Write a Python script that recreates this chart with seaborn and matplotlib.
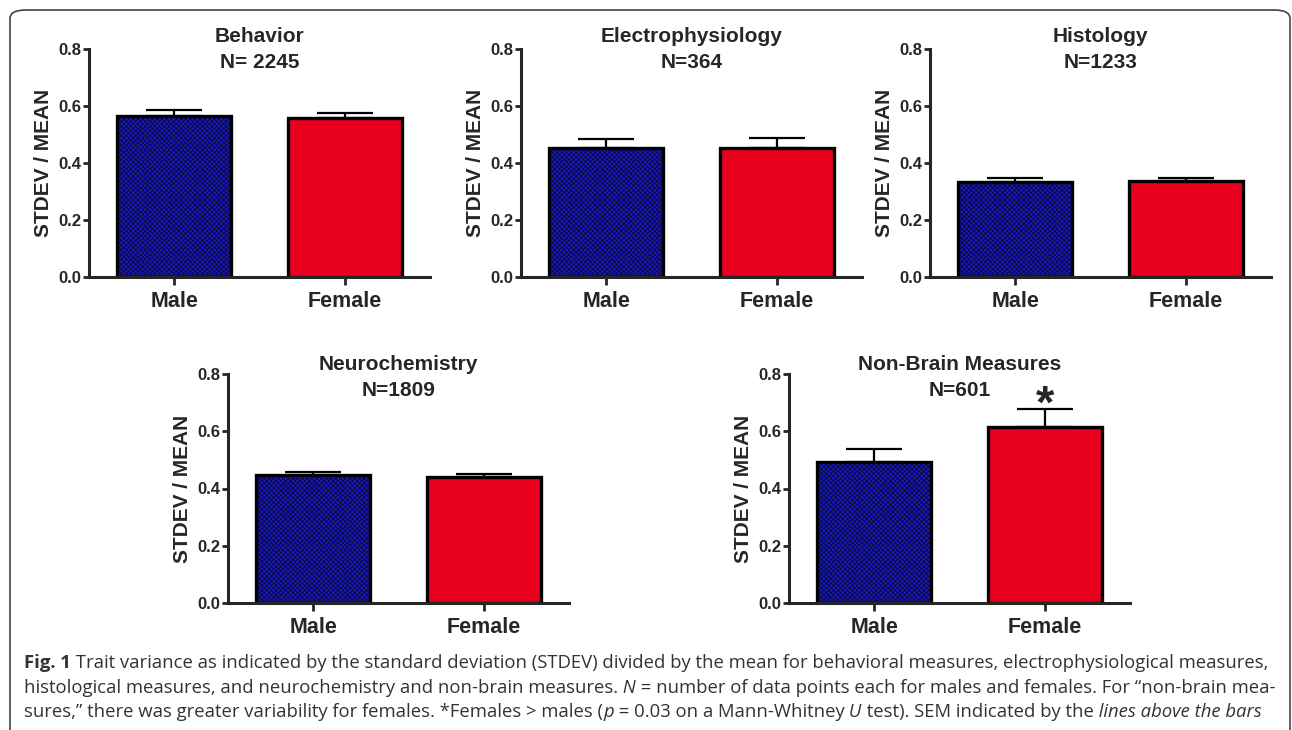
import numpy as np
import pandas as pd
import matplotlib
matplotlib.use("Agg")
import matplotlib.pyplot as plt
import seaborn as sns
from matplotlib.patches import FancyBboxPatch
from matplotlib.ticker import FormatStrFormatter

# dados
sexos = ["Male", "Female"]
titulos = ["Behavior", "Electrophysiology", "Histology",
           "Neurochemistry", "Non-Brain Measures"]
n_pontos = ["N= 2245", "N=364", "N=1233", "N=1809", "N=601"]
media_behavior = [0.566, 0.559]
sem_behavior = [0.021, 0.015]
media_electro = [0.453, 0.453]
sem_electro = [0.031, 0.034]
media_histo = [0.334, 0.337]
sem_histo = [0.013, 0.011]
media_neuro = [0.446, 0.439]
sem_neuro = [0.013, 0.012]
media_nonbrain = [0.494, 0.616]
sem_nonbrain = [0.043, 0.060]
yticks = [0.0, 0.2, 0.4, 0.6, 0.8]

W, H = 1292, 730
COR_M = "#1818b4"
COR_F = "#e8001e"
TXT = "#333333"

sns.set_style("ticks")
plt.rcParams["font.family"] = ["Liberation Sans", "DejaVu Sans"]
plt.rcParams["hatch.linewidth"] = 0.35


def painel(fig, caixa, titulo, n, medias, sems, dy_tit, asterisco=False):
    l, t, w, h = caixa
    ax = fig.add_axes([l / W, 1 - (t + h) / H, w / W, h / H])
    df = pd.DataFrame({"sexo": sexos, "valor": medias})
    sns.barplot(data=df, x="sexo", y="valor", hue="sexo",
                palette=[COR_M, COR_F], width=0.67, edgecolor="black",
                linewidth=2.4, saturation=1, legend=False, ax=ax, zorder=2)
    ax.patches[0].set_hatch("xxxxxxx")
    ax.errorbar([0, 1], medias, yerr=[[0, 0], sems], fmt="none",
                ecolor="black", elinewidth=1.6, capsize=20.5, capthick=1.6,
                zorder=3, clip_on=False)
    if asterisco:
        ax.text(1, medias[1] + sems[1] - 0.03, "*", ha="center",
                va="baseline", fontsize=34, fontweight="bold")
    ax.set_xlim(-0.5, 1.5)
    ax.set_ylim(0, 0.8)
    ax.set_yticks(yticks)
    ax.yaxis.set_major_formatter(FormatStrFormatter("%.1f"))
    ax.set_xlabel("")
    ax.set_ylabel("STDEV / MEAN", fontsize=15, fontweight="bold", labelpad=4)
    for s in ["top", "right"]:
        ax.spines[s].set_visible(False)
    for s in ["left", "bottom"]:
        ax.spines[s].set_linewidth(2.2)
    ax.tick_params(axis="y", length=4.5, width=2, labelsize=12, pad=1)
    ax.tick_params(axis="x", length=6, width=2, labelsize=15.5, pad=4)
    for lab in ax.get_xticklabels() + ax.get_yticklabels():
        lab.set_fontweight("bold")
    # titulo em duas linhas separadas
    ax.text(0.5, 1 + dy_tit[0] / h, titulo, transform=ax.transAxes,
            ha="center", va="center", fontsize=15, fontweight="bold")
    ax.text(0.5, 1 + dy_tit[1] / h, n, transform=ax.transAxes,
            ha="center", va="center", fontsize=15, fontweight="bold")
    return ax


def legenda(fig, linhas):
    renderer = fig.canvas.get_renderer()
    for y, partes in linhas:
        x = 24
        for texto, estilo in partes:
            t = fig.text(x / W, 1 - y / H, texto, fontsize=13.3, color=TXT,
                         family=["Open Sans", "DejaVu Sans"],
                         fontweight="bold" if estilo == "b" else "normal",
                         fontstyle="italic" if estilo == "i" else "normal",
                         va="baseline", ha="left")
            x += t.get_window_extent(renderer).width


def main():
    fig = plt.figure(figsize=(W / 100, H / 100), dpi=100)
    borda = FancyBboxPatch((10 / W, -8 / H), 1280 / W, 728 / H,
                           boxstyle="round,pad=0,rounding_size=0.012",
                           transform=fig.transFigure, fill=False,
                           edgecolor="#444444", linewidth=1.2)
    fig.patches.append(borda)

    topo = (13, -13)
    baixo = (9, -17)
    painel(fig, (89, 49, 341, 228), titulos[0], n_pontos[0],
           media_behavior, sem_behavior, topo)
    painel(fig, (521, 49, 341, 228), titulos[1], n_pontos[1],
           media_electro, sem_electro, topo)
    painel(fig, (930, 49, 341, 228), titulos[2], n_pontos[2],
           media_histo, sem_histo, topo)
    painel(fig, (228, 374, 341, 229), titulos[3], n_pontos[3],
           media_neuro, sem_neuro, baixo)
    painel(fig, (789, 374, 341, 229), titulos[4], n_pontos[4],
           media_nonbrain, sem_nonbrain, baixo, asterisco=True)

    linhas = [
        (668, [("Fig. 1", "b"),
               (" Trait variance as indicated by the standard deviation (STDEV) "
                "divided by the mean for behavioral measures, electrophysiological "
                "measures,", "n")]),
        (693, [("histological measures, and neurochemistry and non-brain measures.", "n"),
               (" N", "i"),
               (" = number of data points each for males and females. "
                "For \u201cnon-brain mea-", "n")]),
        (717, [("sures,\u201d there was greater variability for females. "
                "*Females > males (", "n"),
               ("p", "i"),
               (" = 0.03 on a Mann-Whitney", "n"),
               (" U", "i"),
               (" test). SEM indicated by the", "n"),
               (" lines above the bars", "i")]),
    ]
    legenda(fig, linhas)

    fig.savefig("out.png", dpi=100)


if __name__ == "__main__":
    main()
